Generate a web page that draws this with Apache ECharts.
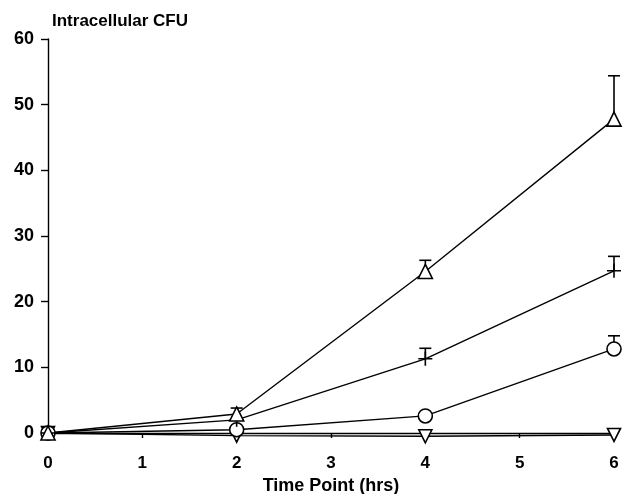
<!DOCTYPE html>
<html>
<head>
<meta charset="utf-8">
<script src="https://cdn.jsdelivr.net/npm/echarts@6/dist/echarts.min.js"></script>
<style>
html, body { margin: 0; padding: 0; background: #fff; }
#chart { width: 634px; height: 494px; }
</style>
</head>
<body>
<div id="chart"></div>
<script>
// time points (hrs)
var hours = [0, 2, 4, 6];
// intracellular CFU per group
var triUp = [0, 2.9, 24.6, 47.8];
var triUpErr = [0, 3.8, 26.3, 54.4];
var plusVals = [0, 2.0, 11.3, 24.7];
var plusErr = [0, 0, 12.9, 26.9];
var circVals = [0, 0.5, 2.6, 12.8];
var circErr = [0, 0, 0, 14.8];
var triDown = [0, -0.4, -0.5, -0.3];

var xTicks = [0, 1, 2, 3, 4, 5, 6];
var yTicks = [0, 10, 20, 30, 40, 50, 60];

var font = '"Liberation Sans", Arial, sans-serif';

function pairs(vals) {
    return hours.map(function (h, i) { return [h, vals[i]]; });
}
function errData(vals, tops) {
    var out = [];
    hours.forEach(function (h, i) {
        if (tops[i] > vals[i]) out.push([h, vals[i], tops[i]]);
    });
    return out;
}

function lineSeries(name, vals, symbol, size, rotate) {
    return {
        name: name,
        type: 'line',
        data: pairs(vals),
        symbol: symbol,
        symbolSize: size,
        symbolRotate: rotate || 0,
        showAllSymbol: true,
        clip: false,
        lineStyle: { color: '#000', width: 1.4 },
        itemStyle: { color: '#fff', borderColor: '#000', borderWidth: 1.6 },
        z: 3
    };
}

function errSeries(vals, tops) {
    return {
        type: 'custom',
        data: errData(vals, tops),
        clip: false,
        z: 2,
        renderItem: function (params, api) {
            var base = api.coord([api.value(0), api.value(1)]);
            var top = api.coord([api.value(0), api.value(2)]);
            var w = 6;
            return {
                type: 'group',
                children: [
                    { type: 'line', shape: { x1: base[0], y1: base[1], x2: top[0], y2: top[1] },
                      style: { stroke: '#000', lineWidth: 1.6 } },
                    { type: 'line', shape: { x1: top[0] - w, y1: top[1], x2: top[0] + w, y2: top[1] },
                      style: { stroke: '#000', lineWidth: 1.6 } }
                ]
            };
        }
    };
}

var myChart = echarts.init(document.getElementById('chart'));
myChart.setOption({
    animation: false,
    backgroundColor: '#fff',
    title: {
        text: 'Intracellular CFU',
        left: 47,
        top: 8,
        textStyle: { fontFamily: font, fontWeight: 'bold', fontSize: 17, color: '#000' }
    },
    grid: { left: 48, right: 20, top: 39, bottom: 61, containLabel: false, outerBoundsMode: 'none' },
    xAxis: {
        type: 'value',
        min: 0,
        max: 6,
        interval: 1,
        name: 'Time Point (hrs)',
        nameLocation: 'middle',
        nameGap: 43,
        nameTextStyle: { fontFamily: font, fontWeight: 'bold', fontSize: 18, color: '#000' },
        axisLine: { lineStyle: { color: '#000', width: 1.4 } },
        axisTick: { show: true, length: 5, lineStyle: { color: '#000', width: 1.4 } },
        axisLabel: { fontFamily: font, fontWeight: 'bold', fontSize: 17, color: '#000', margin: 22 },
        splitLine: { show: false }
    },
    yAxis: {
        type: 'value',
        min: 0,
        max: 60,
        interval: 10,
        axisLine: { show: true, lineStyle: { color: '#000', width: 1.4 } },
        axisTick: { show: true, length: 7, lineStyle: { color: '#000', width: 1.4 } },
        axisLabel: { fontFamily: font, fontWeight: 'bold', fontSize: 18, color: '#000', margin: 14 },
        splitLine: { show: false }
    },
    series: [
        errSeries(triUp, triUpErr),
        errSeries(plusVals, plusErr),
        errSeries(circVals, circErr),
        lineSeries('down', triDown, 'triangle', 13, 180),
        lineSeries('circle', circVals, 'circle', 14),
        lineSeries('plus', plusVals, 'path://M0,6 L12,6 M6,0 L6,12', 14),
        lineSeries('up', triUp, 'triangle', 14)
    ]
});
</script>
</body>
</html>
